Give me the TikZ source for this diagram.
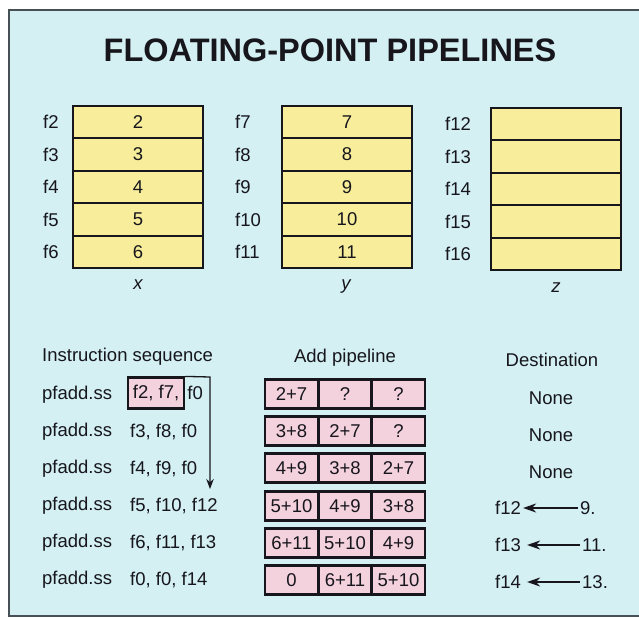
\documentclass[tikz,border=0pt]{standalone}
\usepackage{fontspec}
\setmainfont{Liberation Sans}
\usetikzlibrary{arrows.meta}
\definecolor{bgc}{RGB}{212,240,243}
\definecolor{framec}{RGB}{70,80,85}
\definecolor{yellowc}{RGB}{247,237,155}
\definecolor{pinkc}{RGB}{244,210,221}
\definecolor{inkc}{RGB}{22,22,28}
\begin{document}
\begin{tikzpicture}[x=1pt,y=-1pt,
  every node/.style={text=inkc, font=\fontsize{18.5}{20}\selectfont},
  reg/.style={draw=inkc, line width=1.9, fill=yellowc, minimum width=130, minimum height=32.4, inner sep=0},
  lab/.style={anchor=west, inner sep=0},
  cell/.style={draw=inkc, line width=2.2, fill=pinkc, minimum width=53, minimum height=29, inner sep=0},
  txt/.style={anchor=west, inner sep=0},
  dest/.style={inner sep=2},
  destarrow/.style={draw=inkc, line width=2, -{Stealth[length=13pt,width=9pt]}},
  seqarrow/.style={draw=inkc, line width=1.3, -{Stealth[length=10pt,width=7.5pt]}}
]
\useasboundingbox (0,0) rectangle (639,618);
\fill[white] (0,0) rectangle (639,618);
\draw[fill=bgc, draw=framec, line width=2] (9,10) rectangle (648,616);

\node (title) at (330,50) {\fontsize{32.5}{35}\selectfont\bfseries FLOATING-POINT PIPELINES};

% registers x
\foreach \v [count=\k] in {2,3,4,5,6} {
  \node[reg] (xr\k) at (138, 89.8+32.4*\k) {\v};
  \node[lab] (xl\k) at (43, 89.8+32.4*\k) {f\v};
}
% registers y
\foreach \v [count=\k] in {7,8,9,10,11} {
  \node[reg] (yr\k) at (347, 89.8+32.4*\k) {\v};
  \node[lab] (yl\k) at (235, 89.8+32.4*\k) {f\v};
}
% registers z
\foreach \v [count=\k] in {12,13,14,15,16} {
  \node[reg] (zr\k) at (556, 91.8+32.4*\k) {};
  \node[lab] (zl\k) at (445, 91.8+32.4*\k) {f\v};
}
\node (xlab) at (138,285) {\itshape x};
\node (ylab) at (346,287) {\itshape y};
\node (zlab) at (556,288) {\itshape z};

% headings
\node[txt] (hseq) at (42,357) {Instruction sequence};
\node (hadd) at (345,358) {Add pipeline};
\node (hdest) at (552,360) {Destination};

% instruction sequence
\foreach \y [count=\k] in {395,432,469,506,543,580} {
  \node[txt] (ins\k) at (42,\y) {pfadd.ss};
}
\node[draw=inkc, line width=2.2, fill=pinkc, anchor=west, minimum height=31, minimum width=56, inner sep=0] (op1) at (127,393) {f2, f7,};
\node[txt] (op1b) at ([xshift=2pt]op1.east) {f0};
\node[txt] (op2) at (130,432) {f3, f8, f0};
\node[txt] (op3) at (130,469) {f4, f9, f0};
\node[txt] (op4) at (130,506) {f5, f10, f12};
\node[txt] (op5) at (130,543) {f6, f11, f13};
\node[txt] (op6) at (130,580) {f0, f0, f14};
\coordinate (acorner) at (210,377);
\coordinate (aend) at (210,489);
\draw[seqarrow] (op1.north east) -- (acorner) -- (aend);

% add pipeline
\foreach \a/\b/\c/\y [count=\k] in {2+7/?/?/394, 3+8/2+7/?/431, 4+9/3+8/2+7/468, 5+10/4+9/3+8/506, 6+11/5+10/4+9/543, 0/6+11/5+10/580} {
  \node[cell] (p\k a) at (291.5,\y) {\a};
  \node[cell] (p\k b) at (345,\y) {\b};
  \node[cell] (p\k c) at (398.5,\y) {\c};
}

% destination
\node (none1) at (551,398) {None};
\node (none2) at (551,435) {None};
\node (none3) at (551,472) {None};
\node[dest, anchor=west] (d12) at (493,508) {f12};
\node[dest, anchor=west] (v9) at (578,508) {9.};
\node[dest, anchor=west] (d13) at (493,545) {f13};
\node[dest, anchor=west] (v11) at (580,545) {11.};
\node[dest, anchor=west] (d14) at (493,582) {f14};
\node[dest, anchor=west] (v13) at (580,582) {13.};
\draw[destarrow] (v9.west) -- (d12.east);
\draw[destarrow, shorten >=4pt] (v11.west) -- (d13.east);
\draw[destarrow, shorten >=4pt] (v13.west) -- (d14.east);
\end{tikzpicture}
\end{document}
